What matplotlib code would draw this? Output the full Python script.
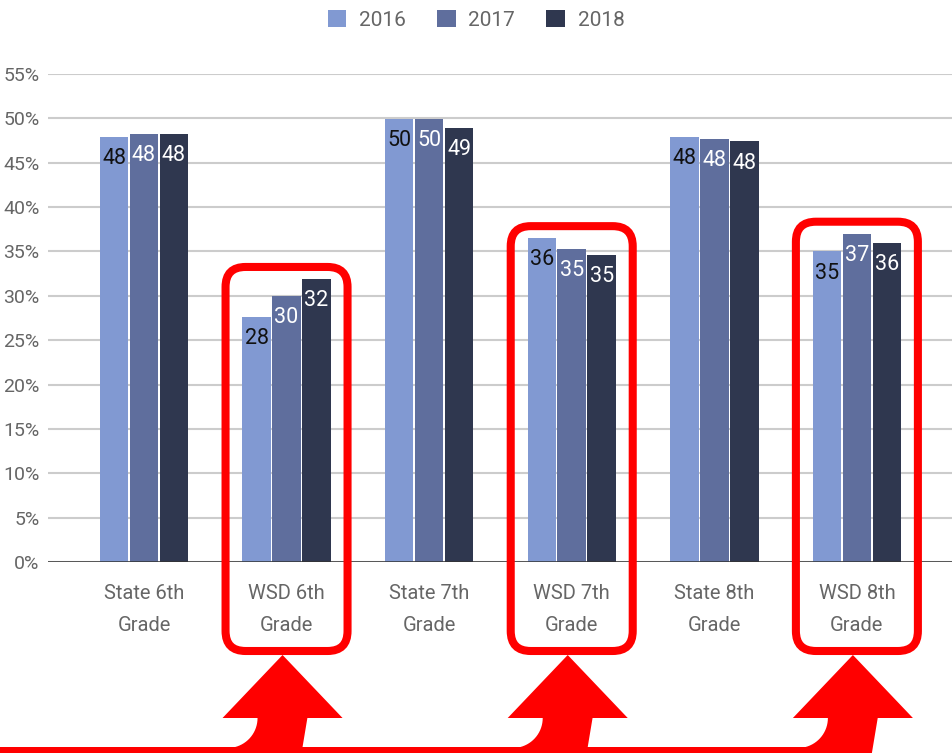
import numpy as np
import matplotlib.pyplot as plt
from matplotlib.patches import Patch, FancyBboxPatch, Polygon, Rectangle

plt.rcParams['font.family'] = ['Roboto', 'DejaVu Sans']

groups = ["State 6th\nGrade", "WSD 6th\nGrade", "State 7th\nGrade",
          "WSD 7th\nGrade", "State 8th\nGrade", "WSD 8th\nGrade"]
years = ["2016", "2017", "2018"]
vals_2016 = [47.9, 27.6, 49.9, 36.5, 47.9, 35.0]
vals_2017 = [48.2, 30.0, 49.9, 35.3, 47.7, 37.0]
vals_2018 = [48.2, 31.9, 48.9, 34.6, 47.4, 36.0]
labels_2016 = [48, 28, 50, 36, 48, 35]
labels_2017 = [48, 30, 50, 35, 48, 37]
labels_2018 = [48, 32, 49, 35, 48, 36]
highlight = [1, 3, 5]

colors = ["#8199d2", "#5f6e9d", "#2f374f"]
label_colors = ["#111111", "white", "white"]
series = [vals_2016, vals_2017, vals_2018]
series_labels = [labels_2016, labels_2017, labels_2018]

W, H = 952, 753
fig = plt.figure(figsize=(W / 100, H / 100), dpi=100)
ax = fig.add_axes([48 / W, 1 - 562 / H, 1 - 48 / W, (562 - 74) / H])

x = np.arange(len(groups))
offsets = [-0.21, 0, 0.21]
for vals, labs, off, c, lc, yr in zip(series, series_labels, offsets, colors, label_colors, years):
    bars = ax.bar(x + off, vals, width=0.2, color=c, label=yr, zorder=3)
    for b, lab in zip(bars, labs):
        ax.annotate(str(lab), (b.get_x() + b.get_width() / 2, b.get_height()),
                    xytext=(0, -8), textcoords="offset points", ha="center", va="top",
                    fontsize=15.5, color=lc, zorder=4)

ax.set_xlim(-0.673, 5.667)
ax.set_ylim(0, 55)
ax.set_yticks(np.arange(0, 56, 5))
ax.set_yticklabels([f"{v}%" for v in range(0, 56, 5)])
ax.set_xticks(x)
ax.set_xticklabels(groups, linespacing=1.85)
ax.tick_params(axis="both", length=0, colors="#666666")
ax.tick_params(axis="x", pad=16, labelsize=14.5)
ax.tick_params(axis="y", pad=6, labelsize=14)
ax.grid(axis="y", color="#cccccc", linewidth=1.5, zorder=0)
for s in ax.spines.values():
    s.set_visible(False)
ax.axhline(0, color="#333333", linewidth=1.8, zorder=4)

handles = [Patch(facecolor=c, edgecolor="none") for c in colors]
fig.legend(handles, years, loc="upper center", bbox_to_anchor=(0.5, 1.012), ncol=3,
           frameon=False, fontsize=15, handlelength=0.9, handleheight=0.9,
           handletextpad=0.6, columnspacing=1.5, labelcolor="#666666")

# overlay in pixel coordinates for the red callouts
ov = fig.add_axes([0, 0, 1, 1], zorder=10)
ov.set_xlim(0, W)
ov.set_ylim(H, 0)
ov.axis("off")

def to_px(xd, yd):
    dx, dy = ax.transData.transform((xd, yd))
    return dx, H - dy

red = "#ff0000"
tips = []
for g in highlight:
    cx, _ = to_px(g, 0)
    top_val = max(s[g] for s in series)
    _, ty = to_px(g, top_val)
    box = FancyBboxPatch((cx - 61, ty - 12), 122, 651 - (ty - 12),
                         boxstyle="round,pad=0,rounding_size=20",
                         fill=False, edgecolor=red, linewidth=5.8)
    ov.add_patch(box)
    tips.append(cx - 4)

head_hw, shaft_hw, r = 60, 25, 30
tip_y, base_y = 655, 718
for cx in tips:
    ov.add_patch(Polygon([(cx, tip_y), (cx + head_hw, base_y), (cx - head_hw, base_y)],
                         closed=True, facecolor=red, edgecolor="none"))
    arc_t = np.linspace(0, np.pi / 2, 20)
    arc = [(cx - shaft_hw - r + r * np.cos(t), base_y + r * np.sin(t)) for t in arc_t]
    pts = [(cx - shaft_hw, base_y - 1)] + arc + [(cx - shaft_hw - r, H), (cx + shaft_hw - 6, H),
                                                (cx + shaft_hw, base_y - 1)]
    ov.add_patch(Polygon(pts, closed=True, facecolor=red, edgecolor="none"))
ov.add_patch(Rectangle((0, 747), tips[-1], H - 747, facecolor=red, edgecolor="none"))

fig.savefig("out.png", dpi=100)
